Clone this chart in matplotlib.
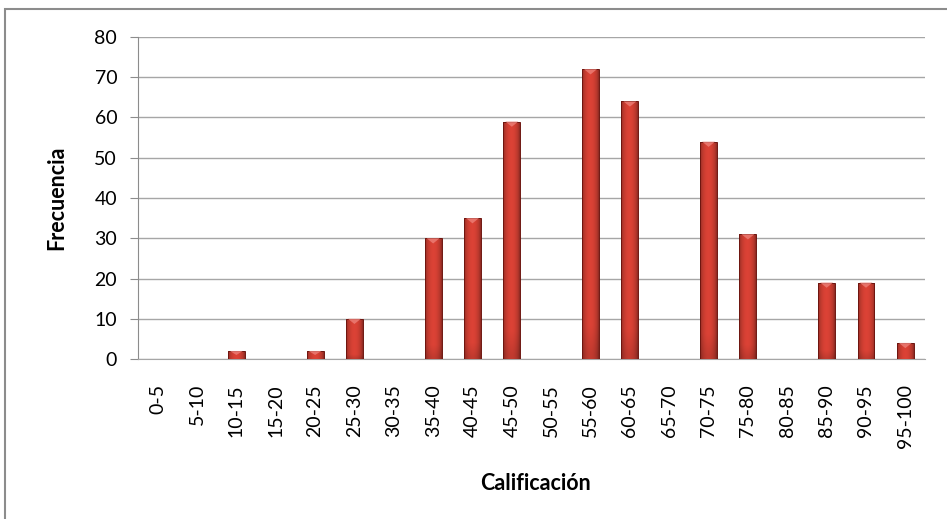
import numpy as np
import matplotlib.pyplot as plt
from matplotlib.patches import Rectangle, Polygon

plt.rcParams['font.family'] = ['Lato', 'DejaVu Sans']

rangos = ['0-5', '5-10', '10-15', '15-20', '20-25', '25-30', '30-35', '35-40', '40-45', '45-50',
          '50-55', '55-60', '60-65', '65-70', '70-75', '75-80', '80-85', '85-90', '90-95', '95-100']
frecuencia = [0, 0, 2, 0, 2, 10, 0, 30, 35, 59, 0, 72, 64, 0, 54, 31, 0, 19, 19, 4]

fig = plt.figure(figsize=(9.47, 5.19), dpi=100)
W, H = 947, 519
# marco exterior del grafico
fig.patches.append(Rectangle((5 / W, -0.05), 1.1, 1 - 9 / H + 0.05, transform=fig.transFigure,
                             fill=False, edgecolor='#8c8c8c', linewidth=1.5))

ax = fig.add_axes([138 / W, 1 - 359 / H, (925 - 138) / W, (359 - 37) / H])
x = np.arange(len(rangos))
ax.set_xlim(-0.5, len(rangos) - 0.5)
ax.set_ylim(0, 80)

bars = ax.bar(x, frecuencia, width=0.43, color='none', edgecolor='none', zorder=3)

# degradado para imitar el estilo de Excel
u = np.linspace(0, 1, 40)
horiz = 0.62 + 0.38 * np.sin(np.pi * u) ** 0.6
base = np.array([0.86, 0.26, 0.21])
for b in bars:
    h = b.get_height()
    if h <= 0:
        continue
    x0, w = b.get_x(), b.get_width()
    v = np.linspace(1, 0, 30)  # top -> bottom
    vert = 1.0 - 0.12 * np.clip((0.1 - v) / 0.1, 0, 1) if h > 5 else np.ones_like(v)
    img = base[None, None, :] * horiz[None, :, None] * np.atleast_1d(vert)[:, None, None]
    im = ax.imshow(np.clip(img, 0, 1), extent=(x0, x0 + w, 0, h), aspect='auto',
                   interpolation='bilinear', zorder=3)
    im.set_clip_path(b)
    ax.add_patch(Rectangle((x0, 0), w, h, fill=False, edgecolor='#6e1610', linewidth=0.7, zorder=4))
    bev = min(1.3, h * 0.5)
    ax.add_patch(Polygon([(x0 + 0.05, h), (x0 + w - 0.05, h), (x0 + w / 2, h - bev)],
                         closed=True, facecolor='#ec8078', edgecolor='none', alpha=0.8, zorder=4))

ax.set_xlim(-0.5, len(rangos) - 0.5)
ax.set_ylim(0, 80)
ax.set_yticks(range(0, 81, 10))
ax.set_xticks(x)
ax.set_xticklabels(rangos, rotation=90, fontsize=14, va='top')
ax.tick_params(axis='y', labelsize=14, length=6, color='#8c8c8c', pad=9)
ax.tick_params(axis='x', length=0, pad=18)
ax.grid(axis='y', color='#a6a6a6', linewidth=1, zorder=0)
for s in ['top', 'right']:
    ax.spines[s].set_visible(False)
ax.spines['left'].set_color('#8c8c8c')
ax.spines['bottom'].set_color('#a6a6a6')

ax.set_ylabel('Frecuencia', fontsize=15.5, fontweight='bold')
ax.set_xlabel('Calificación', fontsize=15.5, fontweight='bold')
ax.yaxis.set_label_coords(57 / W, 1 - 198 / H, transform=fig.transFigure)
ax.xaxis.set_label_coords(535 / W, 1 - 483 / H, transform=fig.transFigure)
ax.xaxis.label.set_va('center')
ax.yaxis.label.set_va('center')

fig.savefig('out.png', dpi=100)
